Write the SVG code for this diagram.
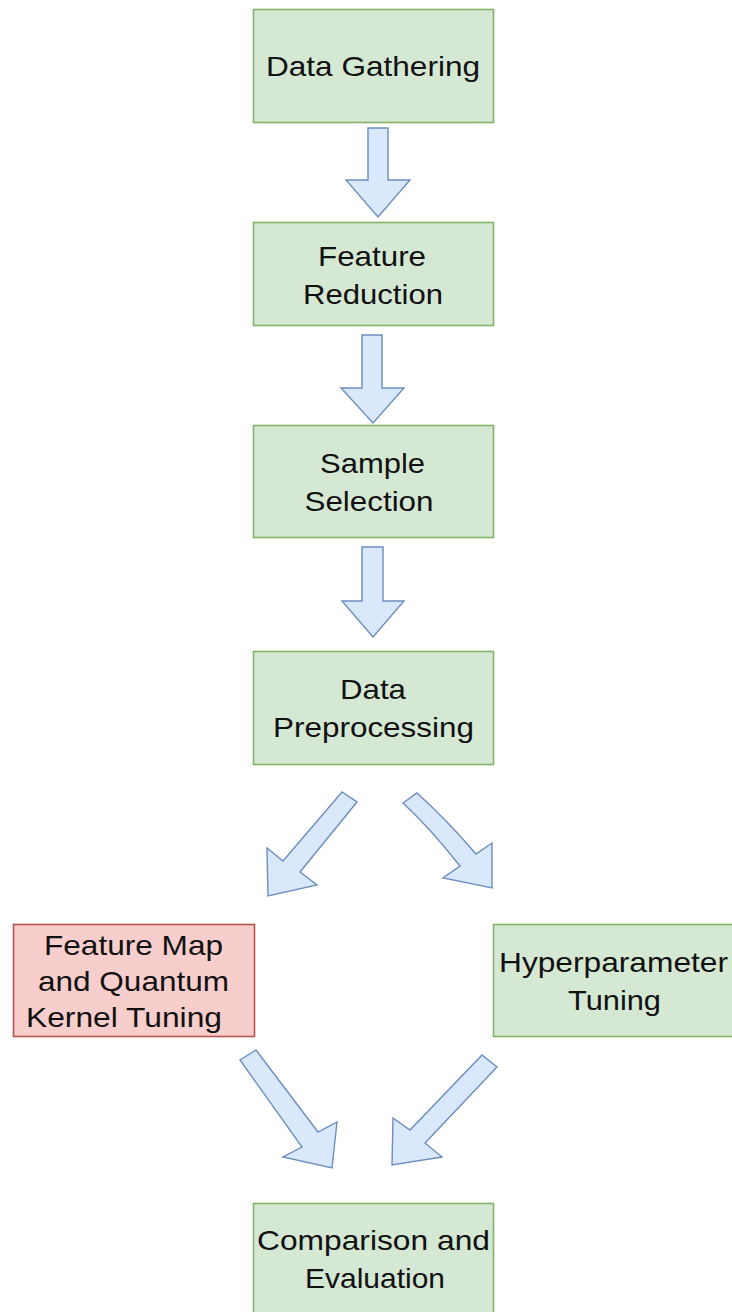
<svg xmlns="http://www.w3.org/2000/svg" width="732" height="1312" viewBox="0 0 732 1312">
<style>
.g{fill:#d5e8d4;stroke:#82b366;stroke-width:1.6}
.r{fill:#f8cecc;stroke:#b85450;stroke-width:1.6}
.a{fill:#dae8fc;stroke:#6c8ebf;stroke-width:1.4;stroke-linejoin:miter}
.t{font-family:"Liberation Sans",Arial,sans-serif;font-size:28px;fill:#111;text-anchor:middle}
</style>
<rect width="732" height="1312" fill="#fff"/>
<g id="connectors">
<polygon class="a" points="368,128 388,128 388,180 410,180 378,217 346,180 368,180"/>
<polygon class="a" points="362,335 382,335 382,388 404,388 373,423 341,388 362,388"/>
<polygon class="a" points="362,547 383,547 383,601 404,601 373,637 342,601 362,601"/>
<polygon class="a" points="357,802 300,872 317,885 268,896 267,848 283,861 342,792"/>
<path class="a" d="M403,803 L417,793 Q447,820 476,854 L492,843 L492,888 L443,878 L460,866 Q430,828 403,803 Z"/>
<polygon class="a" points="256,1050 318,1132 337,1122 332,1168 283,1157 302,1147 240,1060"/>
<polygon class="a" points="497,1067 425,1143 442,1157 392,1165 393,1118 410,1130 482,1055"/>
</g>
<g id="n1"><rect class="g" x="253.5" y="9.5" width="240" height="113"/><text class="t" x="373" y="75.5" textLength="214" lengthAdjust="spacingAndGlyphs">Data Gathering</text></g>
<g id="n2"><rect class="g" x="253.5" y="222.5" width="240" height="103"/><text class="t" x="372" y="265.5" textLength="108" lengthAdjust="spacingAndGlyphs">Feature</text><text class="t" x="373" y="303.5" textLength="140" lengthAdjust="spacingAndGlyphs">Reduction</text></g>
<g id="n3"><rect class="g" x="253.5" y="425.5" width="240" height="112"/><text class="t" x="372.5" y="472.5" textLength="105" lengthAdjust="spacingAndGlyphs">Sample</text><text class="t" x="369" y="510.5" textLength="129" lengthAdjust="spacingAndGlyphs">Selection</text></g>
<g id="n4"><rect class="g" x="253.5" y="651.5" width="240" height="113"/><text class="t" x="373" y="699" textLength="66" lengthAdjust="spacingAndGlyphs">Data</text><text class="t" x="373.5" y="737" textLength="201" lengthAdjust="spacingAndGlyphs">Preprocessing</text></g>
<g id="n5"><rect class="r" x="13.5" y="924.5" width="241" height="112"/><text class="t" x="133.5" y="954.5" textLength="179" lengthAdjust="spacingAndGlyphs">Feature Map</text><text class="t" x="133.5" y="990.5" textLength="191" lengthAdjust="spacingAndGlyphs">and Quantum</text><text class="t" x="124" y="1026.5" textLength="196" lengthAdjust="spacingAndGlyphs">Kernel Tuning</text></g>
<g id="n6"><rect class="g" x="493.5" y="924.5" width="241" height="112"/><text class="t" x="613.5" y="971.5" textLength="229" lengthAdjust="spacingAndGlyphs">Hyperparameter</text><text class="t" x="614.5" y="1009.5" textLength="93" lengthAdjust="spacingAndGlyphs">Tuning</text></g>
<g id="n7"><rect class="g" x="253.5" y="1203.5" width="240" height="120"/><text class="t" x="373.5" y="1250" textLength="233" lengthAdjust="spacingAndGlyphs">Comparison and</text><text class="t" x="375" y="1288" textLength="140" lengthAdjust="spacingAndGlyphs">Evaluation</text></g>
</svg>
